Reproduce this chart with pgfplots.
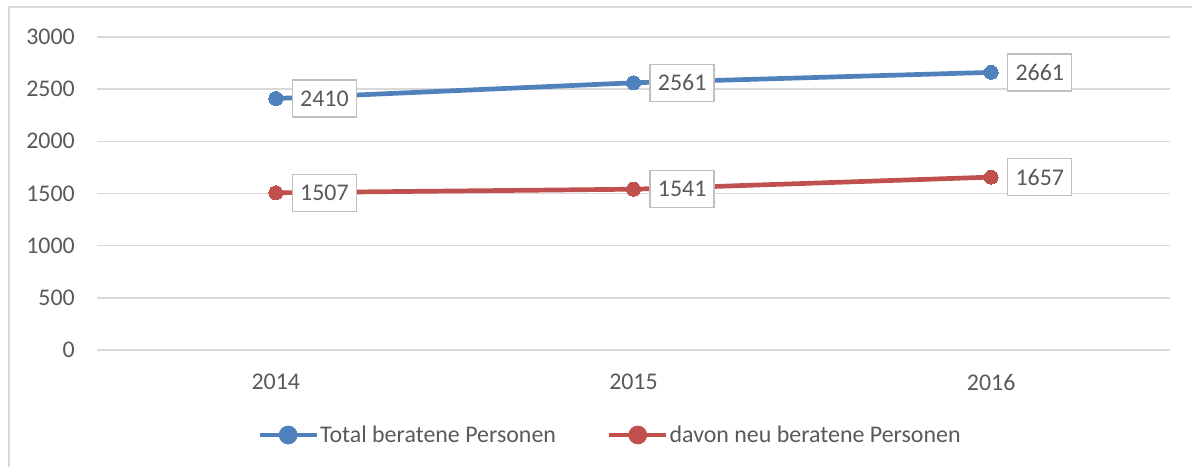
\documentclass[border=0pt]{standalone}
\usepackage{pgfplots}
\pgfplotsset{compat=1.18}
\usepackage{fontspec}
\setmainfont{Carlito}
\definecolor{txt}{HTML}{595959}
\definecolor{gridc}{HTML}{D9D9D9}
\definecolor{lblue}{HTML}{4F81BD}
\definecolor{lred}{HTML}{C0504D}
\definecolor{boxc}{HTML}{BFBFBF}
\begin{document}
\begin{tikzpicture}[x=1bp,y=1bp]
\useasboundingbox (0,0) rectangle (1192,467);
\draw[gridc,line width=1.5bp] (9,0) -- (9,460) -- (1192,460);
\begin{axis}[
  at={(97bp,117bp)}, anchor=south west,
  scale only axis, width=1073bp, height=313bp,
  xmin=-0.5, xmax=2.5, ymin=0, ymax=3000,
  xtick={0,1,2}, xticklabels={2014,2015,2016},
  ytick={0,500,...,3000},
  axis line style={draw=none},
  major tick length=0pt,
  ymajorgrids, xmajorgrids=false, grid style={draw=gridc,line width=1.4bp},
  /pgf/number format/assume math mode=true,
  /pgf/number format/1000 sep={},
  tick label style={font=\fontsize{24}{28}\selectfont, text=txt},
  yticklabel style={anchor=east, inner sep=0pt, xshift=-22bp},
  xticklabel style={anchor=north, inner sep=0pt, yshift=-24bp},
  legend style={at={(0.4776,-0.2716)}, anchor=center, draw=none, fill=none,
    legend columns=2, font=\fontsize{24}{28}\selectfont, text=txt,
    /tikz/every even column/.append style={column sep=50bp},
    nodes={inner sep=1bp}},
  legend cell align=left,
  legend image code/.code={%
    \draw[line width=4.7bp,#1] (0bp,0bp) -- (57bp,0bp);
    \fill[#1] (28.5bp,0bp) circle (7bp);},
  nodes near coords,
  every node near coord/.append style={anchor=west, xshift=16bp,
    draw=boxc, line width=1.3bp, fill=white, text=txt,
    font=\fontsize{24}{28}\selectfont,
    minimum width=64bp, minimum height=37bp, inner sep=0pt},
  point meta=explicit symbolic,
]
\addplot[lblue, line width=4.7bp, mark=*, mark size=7bp, mark options={line width=0pt}]
  coordinates {(0,2410)[2410] (1,2561)[2561] (2,2661)[2661]};
\addlegendentry{Total beratene Personen}
\addplot[lred, line width=4.7bp, mark=*, mark size=7bp, mark options={line width=0pt}]
  coordinates {(0,1507)[1507] (1,1541)[1541] (2,1657)[1657]};
\addlegendentry{davon neu beratene Personen}
\end{axis}
\end{tikzpicture}
\end{document}
